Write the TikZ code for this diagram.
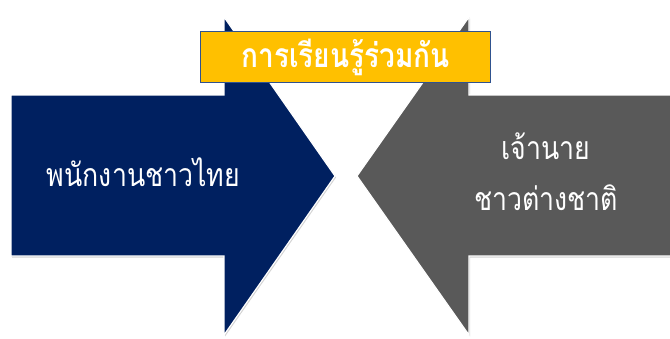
\documentclass[tikz,border=0pt]{standalone}
\usepackage{fontspec}
\usepackage{graphicx}
\newfontfamily\thaifont[Script=Thai]{Loma}
\usetikzlibrary{shadows}
\definecolor{navy}{HTML}{002060}
\definecolor{darkgrey}{HTML}{595959}
\definecolor{gold}{HTML}{FFC000}
\definecolor{boxline}{HTML}{2F528F}
\newcommand{\tall}[1]{\scalebox{1}[1.2]{#1}}
\tikzset{
  arrowshape/.style={draw=white, line width=1.2pt, line join=miter,
    drop shadow={shadow xshift=1pt, shadow yshift=-1.5pt, opacity=0.35, fill=gray}},
  label/.style={text=white, font=\thaifont\fontsize{26.7}{32}\selectfont, align=center, inner sep=0pt},
  titlebox/.style={fill=gold, draw=boxline, line width=0.9pt, minimum width=290pt,
    minimum height=51pt, inner sep=0pt, text=white,
    font=\thaifont\bfseries\fontsize{28}{32}\selectfont}
}
\begin{document}
\begin{tikzpicture}[x=1pt,y=-1pt]
\useasboundingbox (0,0) rectangle (670,338);
% left arrow (navy)
\path[arrowshape, fill=navy] (11,95) -- (224,95) -- (224,17) -- (335,176) -- (224,335)
  -- (224,256) -- (11,256) -- cycle;
% right arrow (grey)
\path[arrowshape, fill=darkgrey] (671,95) -- (469,95) -- (469,17) -- (357,176) -- (469,335)
  -- (469,256) -- (671,256) -- cycle;
% title
\node[titlebox] (title) at (345.5,57) {\tall{การเรียนรู้ร่วมกัน}};
% texts
\node[label] (thai) at (143.5,172) {\tall{พนักงานชาวไทย}};
\node[label] (boss1) at (546,146) {\tall{เจ้านาย}};
\node[label] (boss2) at (546,198) {\tall{ชาวต่างชาติ}};
\end{tikzpicture}
\end{document}
